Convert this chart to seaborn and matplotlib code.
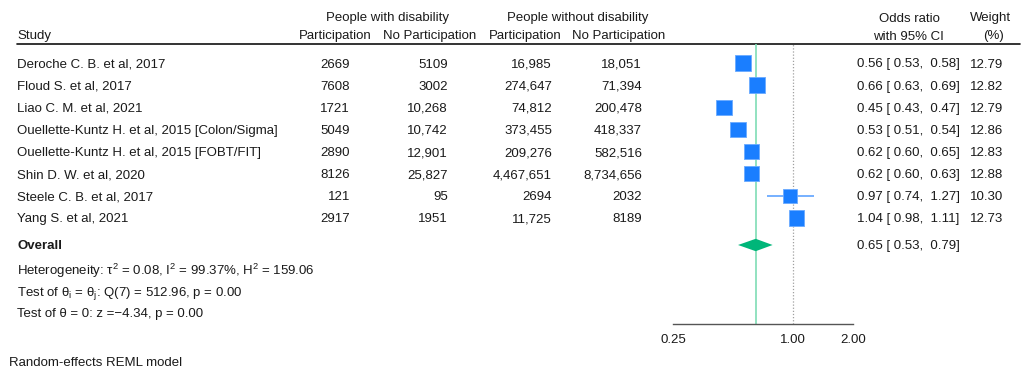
import numpy as np
import pandas as pd
import seaborn as sns
import matplotlib
matplotlib.use("Agg")
import matplotlib.pyplot as plt

# ---- data -------------------------------------------------------------
studies = [
    "Deroche C. B. et al, 2017",
    "Floud S. et al, 2017",
    "Liao C. M. et al, 2021",
    "Ouellette-Kuntz H. et al, 2015 [Colon/Sigma]",
    "Ouellette-Kuntz H. et al, 2015 [FOBT/FIT]",
    "Shin D. W. et al, 2020",
    "Steele C. B. et al, 2017",
    "Yang S. et al, 2021",
]
dis_part = [2669, 7608, 1721, 5049, 2890, 8126, 121, 2917]
dis_nopart = [5109, 3002, 10268, 10742, 12901, 25827, 95, 1951]
nodis_part = [16985, 274647, 74812, 373455, 209276, 4467651, 2694, 11725]
nodis_nopart = [18051, 71394, 200478, 418337, 582516, 8734656, 2032, 8189]
or_est = [0.56, 0.66, 0.45, 0.53, 0.62, 0.62, 0.97, 1.04]
ci_lo = [0.53, 0.63, 0.43, 0.51, 0.60, 0.60, 0.74, 0.98]
ci_hi = [0.58, 0.69, 0.47, 0.54, 0.65, 0.63, 1.27, 1.11]
weights = [12.79, 12.82, 12.79, 12.86, 12.83, 12.88, 10.30, 12.73]
overall_est, overall_lo, overall_hi = 0.65, 0.53, 0.79
x_ticks = [0.25, 1.00, 2.00]
x_tick_labels = ["0.25", "1.00", "2.00"]

df = pd.DataFrame({
    "study": studies, "or": or_est, "lo": ci_lo, "hi": ci_hi,
    "weight": weights, "row": np.arange(len(studies), dtype=float),
})

# ---- style ------------------------------------------------------------
sns.set_theme(style="white")
plt.rcParams["font.family"] = ["Liberation Sans", "DejaVu Sans"]
plt.rcParams["mathtext.fontset"] = "custom"
plt.rcParams["mathtext.rm"] = "Liberation Sans"
plt.rcParams["mathtext.it"] = "Liberation Sans:italic"
FS = 9.5
TXT = "#1a1a1a"
VA = "center_baseline"

W, H, DPI = 1030, 371, 100
fig = plt.figure(figsize=(W / DPI, H / DPI), dpi=DPI)

# row geometry (pixels) shared by the text table and the forest panel
ROW0_PX, ROW_PX = 63.0, 22.14
def px_to_row(py):
    return (py - ROW0_PX) / ROW_PX

# full-figure axes for the table text
ax_t = fig.add_axes([0, 0, 1, 1])
ax_t.set_xlim(0, W)
ax_t.set_ylim(px_to_row(H), px_to_row(0))
ax_t.axis("off")

# forest panel (log scale)
fx0, fx1, fy_top, fy_bot = 673, 853, 44, 324
ax_f = fig.add_axes([fx0 / W, (H - fy_bot) / H, (fx1 - fx0) / W, (fy_bot - fy_top) / H])
ax_f.set_xscale("log", base=2)
ax_f.set_xlim(x_ticks[0], x_ticks[-1])
ax_f.set_ylim(px_to_row(fy_bot), px_to_row(fy_top))
ax_f.patch.set_alpha(0)
for s in ["top", "left", "right"]:
    ax_f.spines[s].set_visible(False)
ax_f.spines["bottom"].set_color("#555555")
ax_f.spines["bottom"].set_linewidth(1.0)
ax_f.set_xticks(x_ticks)
ax_f.set_xticklabels(x_tick_labels, fontsize=FS, color=TXT)
ax_f.minorticks_off()
ax_f.tick_params(axis="x", direction="in", length=5, width=1.0, color="#555555", pad=7)
ax_f.set_yticks([])

# reference lines
ax_f.axvline(1.0, color="#a0a0a0", lw=0.9, ls=(0, (1, 1.5)), zorder=1)
ax_f.axvline(overall_est, color="#7fddb5", lw=1.2, zorder=1)

# confidence intervals and weighted squares
ax_f.hlines(df["row"], df["lo"], df["hi"], color="#5fa3ff", lw=1.2, zorder=2)
max_area = 124.0
sns.scatterplot(data=df, x="or", y="row", size="weight", sizes=(0, max_area),
                size_norm=(0, max(weights)), marker="s", color="#1a7eff",
                edgecolor="#6aaaff", linewidth=0.6, legend=False, ax=ax_f, zorder=3)
ax_f.set_xlabel("")
ax_f.set_ylabel("")

# overall diamond
ov_row = 8.22
dh = 0.28
ax_f.fill([overall_lo, overall_est, overall_hi, overall_est],
          [ov_row, ov_row - dh, ov_row, ov_row + dh],
          color="#00b679", lw=0, zorder=3)

# ---- table text -------------------------------------------------------
def fmt(v):
    return f"{v:,}" if v >= 10000 else str(v)

def put(x, y, s, ha="left", **kw):
    ax_t.text(x, y, s, ha=ha, va=VA, fontsize=FS, color=TXT, **kw)

# column anchors (pixels)
X_STUDY = 17
X_D_P, X_D_NP = 350, 448
X_N_P, X_N_NP = 552, 642
X_OR, X_WT = 857, 1003

r_grp = px_to_row(17)
r_hdr = px_to_row(35)
put(388, r_grp, "People with disability", ha="center")
put(578, r_grp, "People without disability", ha="center")
put(909, r_grp, "Odds ratio", ha="center")
put(990, r_grp, "Weight", ha="center")
put(X_STUDY, r_hdr, "Study")
put(335, r_hdr, "Participation", ha="center")
put(430, r_hdr, "No Participation", ha="center")
put(525, r_hdr, "Participation", ha="center")
put(619, r_hdr, "No Participation", ha="center")
put(908, r_hdr, "with 95% CI", ha="center")
put(993, r_hdr, "(%)", ha="center")
ax_t.plot([X_STUDY, 1020], [px_to_row(44)] * 2, color="#111111", lw=1.2)

for i, row in df.iterrows():
    y = row["row"]
    put(X_STUDY, y, row["study"])
    put(X_D_P, y, fmt(dis_part[i]), ha="right")
    put(X_D_NP, y, fmt(dis_nopart[i]), ha="right")
    put(X_N_P, y, fmt(nodis_part[i]), ha="right")
    put(X_N_NP, y, fmt(nodis_nopart[i]), ha="right")
    put(X_OR, y, f"{row['or']:.2f} [ {row['lo']:.2f},  {row['hi']:.2f}]")
    put(X_WT, y, f"{row['weight']:.2f}", ha="right")

put(X_STUDY, ov_row, "Overall", fontweight="bold")
put(X_OR, ov_row, f"{overall_est:.2f} [ {overall_lo:.2f},  {overall_hi:.2f}]")
put(X_STUDY, px_to_row(268),
    r"Heterogeneity: τ$^{\mathregular{2}}$ = 0.08, I$^{\mathregular{2}}$ = 99.37%, H$^{\mathregular{2}}$ = 159.06")
put(X_STUDY, px_to_row(290),
    r"Test of θ$_{\mathregular{i}}$ = θ$_{\mathregular{j}}$: Q(7) = 512.96, p = 0.00")
put(X_STUDY, px_to_row(313), "Test of θ = 0: z =\u22124.34, p = 0.00")
put(9, px_to_row(361), "Random-effects REML model")

fig.savefig("out.png", dpi=DPI)
